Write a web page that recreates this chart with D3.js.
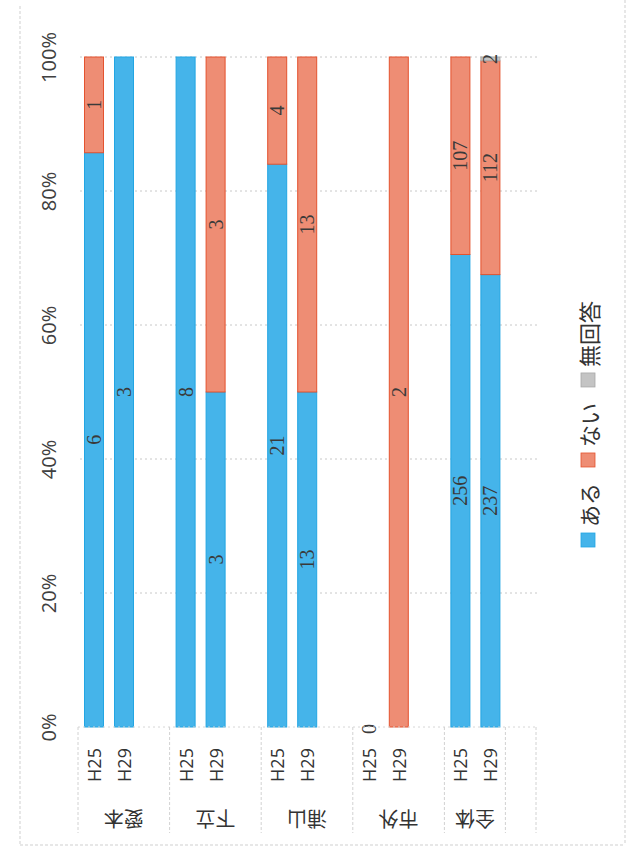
<!DOCTYPE html>
<html lang="ja">
<head>
<meta charset="utf-8">
<script src="https://cdn.jsdelivr.net/npm/d3@7"></script>
<style>
  html, body { margin: 0; padding: 0; background: #fff; }
  svg { display: block; }
</style>
</head>
<body>
<svg id="chart" width="626" height="855"></svg>
<script>
// 地区別・年度別の回答状況（100%積み上げ）
const regions = ["愛本", "下立", "浦山", "市外", "全体"];
const years = ["H25", "H29"];
const seriesNames = ["ある", "ない", "無回答"];
// 各地区の [H25, H29] の件数（null は未記入）
const aru      = [[6, 3], [8, 3], [21, 13], [0, null], [256, 237]];
const nai      = [[1, null], [null, 3], [4, 13], [null, 2], [107, 112]];
const mukaitou = [[null, null], [null, null], [null, null], [null, null], [null, 2]];
const tickValues = [0, 0.2, 0.4, 0.6, 0.8, 1.0];
const tickLabels = ["0%", "20%", "40%", "60%", "80%", "100%"];

const fills   = ["#45b4ea", "#ee8d74", "#c4c4c4"];
const strokes = ["#22a5e3", "#e4532f", "#a8a8a8"];

const svg = d3.select("#chart");

// scales (value axis runs upward, categories run left to right)
const y = d3.scaleLinear().domain([0, 1]).range([727, 57]);
const xGroup = d3.scaleBand().domain(regions).range([78, 536]);
const xYear = d3.scaleBand().domain(years).range([6, 56]).paddingInner(1 / 3);

// outer frame of the chart
const frame = svg.append("g")
  .attr("fill", "none").attr("stroke", "#cfcfcf").attr("stroke-dasharray", "3,2");
frame.append("line").attr("x1", 20).attr("x2", 20).attr("y1", 6).attr("y2", 845);
frame.append("line").attr("x1", 20).attr("x2", 625).attr("y1", 845).attr("y2", 845);
frame.append("line").attr("x1", 625).attr("x2", 625).attr("y1", 0).attr("y2", 845);

// gridlines
svg.append("g")
  .selectAll("line")
  .data(tickValues.filter(v => v > 0))
  .join("line")
  .attr("x1", 80).attr("x2", 538)
  .attr("y1", d => y(d)).attr("y2", d => y(d))
  .attr("stroke", "#c8c8c8").attr("stroke-dasharray", "2,3");

// value axis labels
const axis = d3.axisLeft(y)
  .tickValues(tickValues)
  .tickFormat((d, i) => tickLabels[i])
  .tickSize(0).tickPadding(0);
const axisG = svg.append("g").attr("transform", "translate(48,0)").call(axis);
axisG.select(".domain").remove();
axisG.selectAll("text")
  .attr("x", 0).attr("dy", null)
  .attr("transform", "rotate(-90)")
  .attr("text-anchor", "middle")
  .attr("dominant-baseline", "central")
  .attr("fill", "#404040")
  .style("font-family", "'Open Sans', 'Noto Sans', sans-serif")
  .style("font-size", "20px");

// build stacked rows
const rows = [];
regions.forEach((r, ri) => {
  years.forEach((yr, yi) => {
    const vals = [aru[ri][yi], nai[ri][yi], mukaitou[ri][yi]];
    const total = d3.sum(vals, v => v || 0);
    let acc = 0;
    const segs = vals.map((v, si) => {
      const share = total > 0 ? (v || 0) / total : 0;
      const s = { region: r, year: yr, series: si, value: v, y0: acc, y1: acc + share };
      acc += share;
      return s;
    });
    rows.push({ region: r, year: yr, segs });
  });
});

const barX = d => xGroup(d.region) + xYear(d.year);
const bw = xYear.bandwidth();

// bars
const segs = rows.flatMap(r => r.segs).filter(s => s.value !== null);
svg.append("g")
  .selectAll("rect")
  .data(segs.filter(s => s.y1 > s.y0))
  .join("rect")
  .attr("x", d => barX(d) + 0.5)
  .attr("width", bw - 1)
  .attr("y", d => y(d.y1))
  .attr("height", d => y(d.y0) - y(d.y1))
  .attr("fill", d => fills[d.series])
  .attr("stroke", d => strokes[d.series])
  .attr("stroke-width", 1);

// data labels
svg.append("g")
  .selectAll("text")
  .data(segs)
  .join("text")
  .attr("transform", d => `translate(${barX(d) + bw / 2},${y((d.y0 + d.y1) / 2) + (d.y1 === d.y0 ? 2 : 0)}) rotate(-90)`)
  .attr("text-anchor", "middle")
  .attr("dominant-baseline", "central")
  .attr("fill", "#3a3a3a")
  .style("font-family", "'Liberation Serif', serif")
  .style("font-size", "20px")
  .text(d => d.value);

// category axis: boxes, year labels and region labels
const boxLines = regions.map(r => xGroup(r));
const lastRegion = regions[regions.length - 1];
boxLines.push(xGroup(lastRegion) + xYear(years[years.length - 1]) + bw + 5);
boxLines.push(xGroup.range()[1]);

const cat = svg.append("g");
cat.append("line")
  .attr("x1", xGroup.range()[0]).attr("x2", xGroup.range()[1])
  .attr("y1", y(0)).attr("y2", y(0))
  .attr("stroke", "#d6d6d6").attr("stroke-dasharray", "2,3");
cat.selectAll("line.sep")
  .data(boxLines)
  .join("line")
  .attr("class", "sep")
  .attr("x1", d => d).attr("x2", d => d)
  .attr("y1", y(0)).attr("y2", 833)
  .attr("stroke", "#d2d2d2").attr("stroke-dasharray", "3,2");

cat.selectAll("text.year")
  .data(rows)
  .join("text")
  .attr("class", "year")
  .attr("transform", d => `translate(${barX(d) + bw / 2},765) rotate(-90)`)
  .attr("text-anchor", "middle")
  .attr("dominant-baseline", "central")
  .attr("fill", "#333")
  .style("font-family", "'Open Sans', 'Noto Sans', sans-serif")
  .style("font-size", "18px")
  .text(d => d.year);

const regionRight = (r, i) => (i < regions.length - 1 ? xGroup(r) + xGroup.bandwidth() : boxLines[regions.length]);
cat.selectAll("text.region")
  .data(regions)
  .join("text")
  .attr("class", "region")
  .attr("transform", (d, i) => `translate(${(xGroup(d) + regionRight(d, i)) / 2},819) rotate(180)`)
  .attr("text-anchor", "middle")
  .attr("dominant-baseline", "central")
  .attr("fill", "#333")
  .style("font-family", "'Noto Sans CJK JP', sans-serif")
  .style("font-size", "20px")
  .text(d => d);

// legend (reads upward along the right side)
const legend = svg.append("g").attr("transform", "translate(588,547) rotate(-90)");
let offset = 0;
seriesNames.forEach((name, i) => {
  const item = legend.append("g").attr("transform", `translate(${offset},0)`);
  item.append("rect")
    .attr("x", 0).attr("y", -7).attr("width", 14).attr("height", 14)
    .attr("fill", fills[i]).attr("stroke", strokes[i]).attr("stroke-width", 0.8);
  const t = item.append("text")
    .attr("x", 20).attr("y", 0)
    .attr("dominant-baseline", "central")
    .attr("fill", "#333")
    .style("font-family", "'Noto Sans CJK JP', sans-serif")
    .style("font-size", "22px")
    .text(name);
  offset += 20 + t.node().getComputedTextLength() + 16;
});
</script>
</body>
</html>
